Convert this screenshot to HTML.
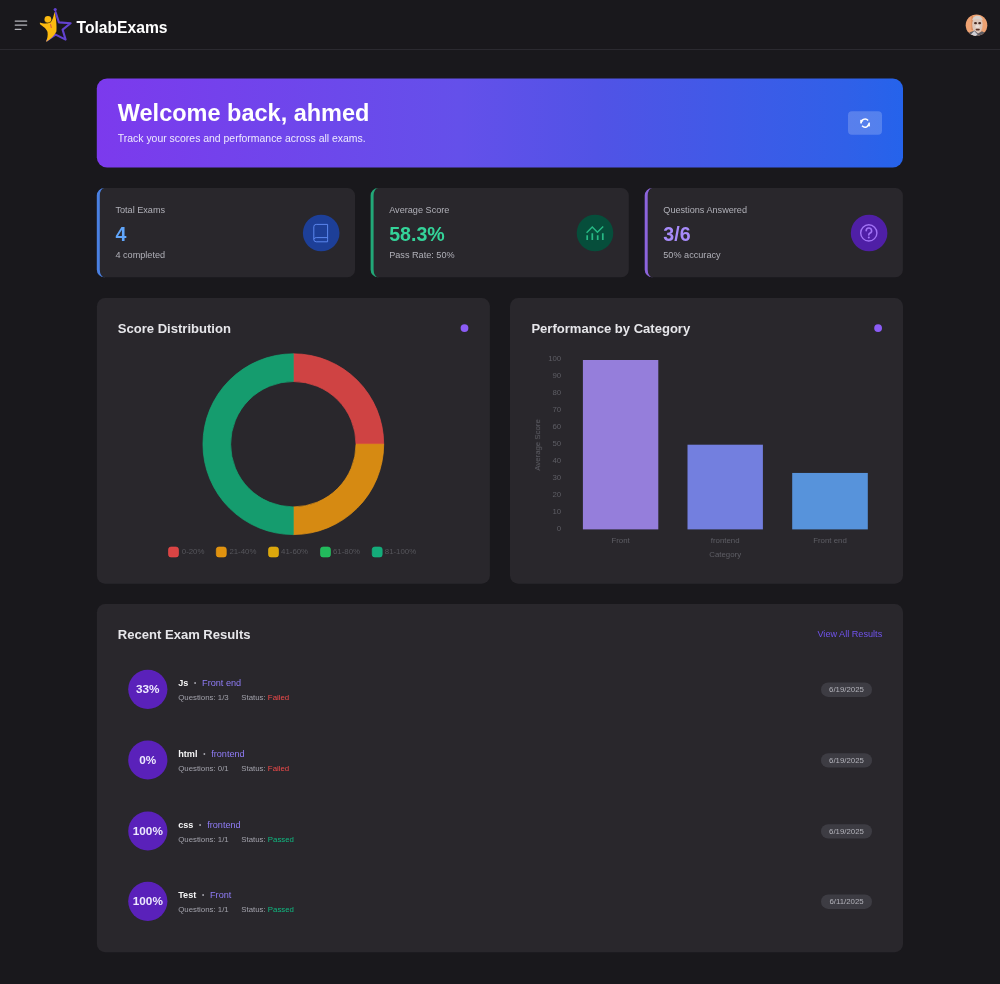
<!DOCTYPE html>
<html><head><meta charset="utf-8"><title>TolabExams</title>
<style>
html,body{margin:0;padding:0;background:#19181c;}
body{width:1000px;height:984px;position:relative;overflow:hidden;font-family:"Liberation Sans",sans-serif;}
#root{position:absolute;left:0;top:0;width:1000px;height:984px;will-change:transform;}
#art{position:absolute;left:0;top:0;display:block;}
.t{position:absolute;line-height:1;white-space:nowrap;}
</style></head><body><div id="root">
<svg id="art" width="1000" height="984" viewBox="0 0 1000 984">
<defs>
<linearGradient id="bg" x1="0" y1="0" x2="1" y2="0"><stop offset="0" stop-color="#7c3aed"/><stop offset="0.45" stop-color="#6450ea"/><stop offset="0.62" stop-color="#5153e6"/><stop offset="0.93" stop-color="#3060e8"/><stop offset="1" stop-color="#2563eb"/></linearGradient>
<clipPath id="av"><circle cx="976.5" cy="25.2" r="10.8"/></clipPath>
<filter id="bl" x="-20%" y="-20%" width="140%" height="140%"><feGaussianBlur stdDeviation="0.55"/></filter>
</defs>
<rect x="0" y="49" width="1000" height="1" rx="0" fill="#2b2a30" />
<path d="M15.2 21H26.7M15.2 25H26.7M15.2 29.3H21" stroke="#b4b4ba" stroke-width="1.25" stroke-linecap="round" fill="none"/>
<path d="M55.6 12.2 L58.9 22.4 L70.6 23.2 L62.6 29.6 L65.6 39.6 L55.6 34.6 L47 40.5" fill="none" stroke="#6242cf" stroke-width="2.1" stroke-linejoin="round" stroke-linecap="round"/>
<circle cx="55.2" cy="9.6" r="1.6" fill="#6242cf"/>
<path d="M39.9 22.5 C42.5 23.5 46.5 23.9 50.0 22.8 C52.4 21.2 53.6 16.5 54.5 12 C56 17 57 26 56.4 31.6 C54.5 35.8 50.5 39.6 46.0 41.9 C47.4 38.8 48.0 35.4 47.5 32.0 C46.6 28.6 42.6 26.4 39.9 24.0 Z" fill="#fbba10"/>
<circle cx="47.9" cy="19.5" r="3.4" fill="#fbba10"/><path d="M44.6 21.4 C46.2 23.2 49.4 23.2 51.2 21.2" stroke="#3a2a08" stroke-width="0.7" fill="none" opacity="0.7"/>
<path d="M50.6 24.6 L51.3 27.6" stroke="#d9534a" stroke-width="1" stroke-linecap="round"/>
<g clip-path="url(#av)"><rect x="964" y="13" width="25" height="25" fill="#eea272"/>
<g filter="url(#bl)">
<rect x="971.4" y="16" width="1.6" height="14" fill="#d98a5c"/>
<ellipse cx="977.4" cy="24.8" rx="5.2" ry="8.6" fill="#dcc6ba"/>
<path d="M972.2 20.6 C972.4 14.2 982.6 14.2 982.8 20.6 C980.5 18.6 974.5 18.6 972.2 20.6Z" fill="#d6d0cb"/>
<ellipse cx="975.5" cy="23.2" rx="1.5" ry="1.1" fill="#4a2c24"/>
<ellipse cx="979.7" cy="23.2" rx="1.5" ry="1.1" fill="#4a2c24"/>
<ellipse cx="977.6" cy="26.4" rx="2.2" ry="1.6" fill="#eadcd4"/>
<path d="M966 38 L969.5 32.5 L974.5 30.6 L978 33.6 L982 31.2 L987 34 L989 38Z" fill="#5d5c63"/>
<path d="M968.5 37 L974.2 31 L977.6 34.6 L973 38Z" fill="#d0d0d6"/>
<rect x="975.6" y="28.8" width="4.2" height="1.6" rx="0.8" fill="#5a3228"/>
</g></g>
<rect x="96.8" y="78.4" width="806.2" height="89.0" rx="10.2" fill="url(#bg)" />
<rect x="848" y="111.3" width="34" height="23.4" rx="4" fill="rgba(255,255,255,0.2)" />
<g transform="translate(858.86 116.86)"><g transform="scale(1.04)"><g fill="none" stroke="#fff" stroke-width="1.45"><path d="M2.1 6.4 A3.9 3.9 0 0 1 8.9 3.4"/><path d="M9.9 5.6 A3.9 3.9 0 0 1 3.1 8.6"/></g>
<path d="M1.2 2.8 L4.5 3.7 L1.8 6.0Z" fill="#fff"/><path d="M10.8 9.2 L7.5 8.3 L10.2 6.0Z" fill="#fff"/></g></g>
<path d="M104.3 188.1 H104.5 V277.3 H104.3 A7.5 7.5 0 0 1 96.8 269.8 V195.6 A7.5 7.5 0 0 1 104.3 188.1Z" fill="#4a80e2"/>
<path d="M104.3 188.1 H347.5 A7.5 7.5 0 0 1 355.0 195.6 V269.8 A7.5 7.5 0 0 1 347.5 277.3 H104.3 A4.5 7.5 0 0 1 99.8 269.8 V195.6 A4.5 7.5 0 0 1 104.3 188.1Z" fill="#29272c"/>
<circle cx="321.2" cy="233" r="18.3" fill="#1d3f98"/>
<g transform="translate(321.2 233)"><g fill="none" stroke="#5b86ee" stroke-width="1"><path d="M6.4 6.2 V-8.6 H-5 A2.4 2.4 0 0 0 -7.4 -6.2 V6.4 A2.4 2.4 0 0 0 -5 8.8 H6.4 V6.2 M-7.4 6.4 A2.4 2.4 0 0 1 -5 4.6 H6.4"/></g></g>
<path d="M378.1 188.1 H378.3 V277.3 H378.1 A7.5 7.5 0 0 1 370.6 269.8 V195.6 A7.5 7.5 0 0 1 378.1 188.1Z" fill="#22a878"/>
<path d="M378.1 188.1 H621.3 A7.5 7.5 0 0 1 628.8 195.6 V269.8 A7.5 7.5 0 0 1 621.3 277.3 H378.1 A4.5 7.5 0 0 1 373.6 269.8 V195.6 A4.5 7.5 0 0 1 378.1 188.1Z" fill="#29272c"/>
<circle cx="595.0" cy="233" r="18.3" fill="#064e3b"/>
<g transform="translate(595.0 233)"><g fill="none" stroke="#27b985"><path d="M-8.4 -0.2 L-2.7 -5.9 L2.4 -0.8 L8.2 -6.6" stroke-width="1.4"/><path d="M-7.8 2.2 V7 M-2.7 0.2 V7 M2.7 2.2 V7 M7.8 0.2 V7" stroke-width="1.7"/></g></g>
<path d="M652.2 188.1 H652.4000000000001 V277.3 H652.2 A7.5 7.5 0 0 1 644.7 269.8 V195.6 A7.5 7.5 0 0 1 652.2 188.1Z" fill="#8c64dc"/>
<path d="M652.2 188.1 H895.4000000000001 A7.5 7.5 0 0 1 902.9000000000001 195.6 V269.8 A7.5 7.5 0 0 1 895.4000000000001 277.3 H652.2 A4.5 7.5 0 0 1 647.7 269.8 V195.6 A4.5 7.5 0 0 1 652.2 188.1Z" fill="#29272c"/>
<circle cx="869.1" cy="233" r="18.3" fill="#4f1fa6"/>
<g transform="translate(869.1 233)"><g fill="none" stroke="#a273f6" stroke-width="1.4"><circle cx="-0.3" cy="-0.1" r="8.1"/><path d="M-2.9 -2.3 A2.7 2.7 0 1 1 0.6 0.3 C-0.1 0.7 -0.3 1.2 -0.3 2.0" stroke-linecap="round" stroke-width="1.6"/></g><circle cx="-0.3" cy="4.4" r="1.0" fill="#a273f6"/></g>
<rect x="96.9" y="298" width="393" height="285.7" rx="8.2" fill="#29272c" />
<rect x="510" y="298" width="393" height="285.7" rx="8.2" fill="#29272c" />
<circle cx="464.5" cy="328.1" r="3.9" fill="#8b5cf6"/>
<circle cx="878.1" cy="328.1" r="3.9" fill="#8b5cf6"/>
<path d="M293.30 353.80 A90.4 90.4 0 0 1 383.70 444.20 L356.00 444.20 A62.7 62.7 0 0 0 293.30 381.50Z" fill="#cf4343" stroke="#e04848" stroke-width="0.7"/><path d="M383.70 444.20 A90.4 90.4 0 0 1 293.30 534.60 L293.30 506.90 A62.7 62.7 0 0 0 356.00 444.20Z" fill="#d68a12" stroke="#e89614" stroke-width="0.7"/><path d="M293.30 534.60 A90.4 90.4 0 0 1 293.30 353.80 L293.30 381.50 A62.7 62.7 0 0 0 293.30 506.90Z" fill="#159c6e" stroke="#14a874" stroke-width="0.7"/>
<rect x="168.5" y="547.0" width="10" height="10" rx="2.6" fill="#da4444" stroke="#ee4a4a" stroke-width="0.6"/>
<rect x="216.3" y="547.0" width="10" height="10" rx="2.6" fill="#e0920f" stroke="#f29f12" stroke-width="0.6"/>
<rect x="268.5" y="547.0" width="10" height="10" rx="2.6" fill="#dca70c" stroke="#eab40e" stroke-width="0.6"/>
<rect x="320.5" y="547.0" width="10" height="10" rx="2.6" fill="#22ba5c" stroke="#26c964" stroke-width="0.6"/>
<rect x="372.2" y="547.0" width="10" height="10" rx="2.6" fill="#14ac7a" stroke="#16ba84" stroke-width="0.6"/>
<rect x="582.9" y="360.0" width="75.4" height="169.4" rx="0" fill="#957edb" />
<rect x="687.5" y="444.7" width="75.4" height="84.7" rx="0" fill="#737fdf" />
<rect x="792.2" y="472.94" width="75.6" height="56.46" rx="0" fill="#5793db" />
<rect x="96.9" y="604" width="806.1" height="348.2" rx="8.2" fill="#29272c" />
<circle cx="147.8" cy="689.3" r="19.6" fill="#5a21ba"/>
<rect x="821" y="682.5" width="51" height="14.4" rx="7.2" fill="#3d3c43" />
<circle cx="147.8" cy="760.0" r="19.6" fill="#5a21ba"/>
<rect x="821" y="753.2" width="51" height="14.4" rx="7.2" fill="#3d3c43" />
<circle cx="147.8" cy="831.0" r="19.6" fill="#5a21ba"/>
<rect x="821" y="824.2" width="51" height="14.4" rx="7.2" fill="#3d3c43" />
<circle cx="147.8" cy="901.3" r="19.6" fill="#5a21ba"/>
<rect x="821" y="894.5" width="51" height="14.4" rx="7.2" fill="#3d3c43" />
</svg>
<div class="t" style="left:76.50px;top:19.54px;font-size:15.67px;color:#ffffff;font-weight:bold;">TolabExams</div>
<div class="t" style="left:117.80px;top:102.21px;font-size:23.5px;color:#ffffff;font-weight:bold;">Welcome back, ahmed</div>
<div class="t" style="left:117.80px;top:134.05px;font-size:10.45px;color:#ede9fe;font-weight:normal;">Track your scores and performance across all exams.</div>
<div class="t" style="left:115.40px;top:206.16px;font-size:9.14px;color:#b0b0b8;font-weight:normal;">Total Exams</div>
<div class="t" style="left:115.40px;top:225.21px;font-size:19.6px;color:#60a5fa;font-weight:bold;">4</div>
<div class="t" style="left:115.40px;top:251.26px;font-size:9.14px;color:#b0b0b8;font-weight:normal;">4 completed</div>
<div class="t" style="left:389.20px;top:206.16px;font-size:9.14px;color:#b0b0b8;font-weight:normal;">Average Score</div>
<div class="t" style="left:389.20px;top:225.21px;font-size:19.6px;color:#34d399;font-weight:bold;">58.3%</div>
<div class="t" style="left:389.20px;top:251.26px;font-size:9.14px;color:#b0b0b8;font-weight:normal;">Pass Rate: 50%</div>
<div class="t" style="left:663.30px;top:206.16px;font-size:9.14px;color:#b0b0b8;font-weight:normal;">Questions Answered</div>
<div class="t" style="left:663.30px;top:225.21px;font-size:19.6px;color:#a78bfa;font-weight:bold;">3/6</div>
<div class="t" style="left:663.30px;top:251.26px;font-size:9.14px;color:#b0b0b8;font-weight:normal;">50% accuracy</div>
<div class="t" style="left:117.80px;top:321.94px;font-size:13.06px;color:#e6e6ea;font-weight:bold;">Score Distribution</div>
<div class="t" style="left:531.40px;top:321.94px;font-size:13.06px;color:#e6e6ea;font-weight:bold;">Performance by Category</div>
<div class="t" style="left:181.80px;top:547.96px;font-size:7.84px;color:#56565c;font-weight:normal;">0-20%</div>
<div class="t" style="left:229.40px;top:547.96px;font-size:7.84px;color:#56565c;font-weight:normal;">21-40%</div>
<div class="t" style="left:281.10px;top:547.96px;font-size:7.84px;color:#56565c;font-weight:normal;">41-60%</div>
<div class="t" style="left:333.00px;top:547.96px;font-size:7.84px;color:#56565c;font-weight:normal;">61-80%</div>
<div class="t" style="left:384.80px;top:547.96px;font-size:7.84px;color:#56565c;font-weight:normal;">81-100%</div>
<div class="t" style="right:438.80px;top:525.26px;font-size:7.84px;color:#5e5e65;font-weight:normal;">0</div>
<div class="t" style="right:438.80px;top:508.23px;font-size:7.84px;color:#5e5e65;font-weight:normal;">10</div>
<div class="t" style="right:438.80px;top:491.20px;font-size:7.84px;color:#5e5e65;font-weight:normal;">20</div>
<div class="t" style="right:438.80px;top:474.17px;font-size:7.84px;color:#5e5e65;font-weight:normal;">30</div>
<div class="t" style="right:438.80px;top:457.14px;font-size:7.84px;color:#5e5e65;font-weight:normal;">40</div>
<div class="t" style="right:438.80px;top:440.11px;font-size:7.84px;color:#5e5e65;font-weight:normal;">50</div>
<div class="t" style="right:438.80px;top:423.08px;font-size:7.84px;color:#5e5e65;font-weight:normal;">60</div>
<div class="t" style="right:438.80px;top:406.05px;font-size:7.84px;color:#5e5e65;font-weight:normal;">70</div>
<div class="t" style="right:438.80px;top:389.02px;font-size:7.84px;color:#5e5e65;font-weight:normal;">80</div>
<div class="t" style="right:438.80px;top:371.99px;font-size:7.84px;color:#5e5e65;font-weight:normal;">90</div>
<div class="t" style="right:438.80px;top:354.96px;font-size:7.84px;color:#5e5e65;font-weight:normal;">100</div>
<div class="t" style="left:420.60px;width:400px;text-align:center;top:537.26px;font-size:7.84px;color:#5e5e65;font-weight:normal;">Front</div>
<div class="t" style="left:525.20px;width:400px;text-align:center;top:537.26px;font-size:7.84px;color:#5e5e65;font-weight:normal;">frontend</div>
<div class="t" style="left:630.00px;width:400px;text-align:center;top:537.26px;font-size:7.84px;color:#5e5e65;font-weight:normal;">Front end</div>
<div class="t" style="left:525.20px;width:400px;text-align:center;top:551.06px;font-size:7.84px;color:#5e5e65;font-weight:normal;">Category</div>
<div class="t" style="left:437.9px;width:200px;text-align:center;top:441px;font-size:7.84px;color:#5e5e65;transform:rotate(-90deg);transform-origin:50% 50%;">Average Score</div>
<div class="t" style="left:117.80px;top:627.94px;font-size:13.06px;color:#e6e6ea;font-weight:bold;">Recent Exam Results</div>
<div class="t" style="right:117.80px;top:630.46px;font-size:9.14px;color:#7053ec;font-weight:normal;">View All Results</div>
<div class="t" style="left:-52.20px;width:400px;text-align:center;top:683.05px;font-size:11.75px;color:#ede9fe;font-weight:bold;">33%</div>
<div class="t" style="left:178.2px;top:678.86px;font-size:9.14px;color:#f4f4f5"><b>Js</b><span style="font-size:6.4px;color:#a4a4ac;vertical-align:0.9px;margin:0 5.8px 0 5.7px">•</span><span style="color:#8f7cf6">Front end</span></div>
<div class="t" style="left:178.20px;top:694.16px;font-size:7.84px;color:#a1a1aa;font-weight:normal;">Questions: 1/3</div>
<div class="t" style="left:241.3px;top:694.16px;font-size:7.84px;color:#a1a1aa">Status: <span style="color:#f04a4a">Failed</span></div>
<div class="t" style="left:646.50px;width:400px;text-align:center;top:685.86px;font-size:7.84px;color:#b2b2ba;font-weight:normal;">6/19/2025</div>
<div class="t" style="left:-52.20px;width:400px;text-align:center;top:753.75px;font-size:11.75px;color:#ede9fe;font-weight:bold;">0%</div>
<div class="t" style="left:178.2px;top:749.56px;font-size:9.14px;color:#f4f4f5"><b>html</b><span style="font-size:6.4px;color:#a4a4ac;vertical-align:0.9px;margin:0 5.8px 0 5.7px">•</span><span style="color:#8f7cf6">frontend</span></div>
<div class="t" style="left:178.20px;top:764.86px;font-size:7.84px;color:#a1a1aa;font-weight:normal;">Questions: 0/1</div>
<div class="t" style="left:241.3px;top:764.86px;font-size:7.84px;color:#a1a1aa">Status: <span style="color:#f04a4a">Failed</span></div>
<div class="t" style="left:646.50px;width:400px;text-align:center;top:756.56px;font-size:7.84px;color:#b2b2ba;font-weight:normal;">6/19/2025</div>
<div class="t" style="left:-52.20px;width:400px;text-align:center;top:824.75px;font-size:11.75px;color:#ede9fe;font-weight:bold;">100%</div>
<div class="t" style="left:178.2px;top:820.56px;font-size:9.14px;color:#f4f4f5"><b>css</b><span style="font-size:6.4px;color:#a4a4ac;vertical-align:0.9px;margin:0 5.8px 0 5.7px">•</span><span style="color:#8f7cf6">frontend</span></div>
<div class="t" style="left:178.20px;top:835.86px;font-size:7.84px;color:#a1a1aa;font-weight:normal;">Questions: 1/1</div>
<div class="t" style="left:241.3px;top:835.86px;font-size:7.84px;color:#a1a1aa">Status: <span style="color:#10b981">Passed</span></div>
<div class="t" style="left:646.50px;width:400px;text-align:center;top:827.56px;font-size:7.84px;color:#b2b2ba;font-weight:normal;">6/19/2025</div>
<div class="t" style="left:-52.20px;width:400px;text-align:center;top:895.05px;font-size:11.75px;color:#ede9fe;font-weight:bold;">100%</div>
<div class="t" style="left:178.2px;top:890.86px;font-size:9.14px;color:#f4f4f5"><b>Test</b><span style="font-size:6.4px;color:#a4a4ac;vertical-align:0.9px;margin:0 5.8px 0 5.7px">•</span><span style="color:#8f7cf6">Front</span></div>
<div class="t" style="left:178.20px;top:906.16px;font-size:7.84px;color:#a1a1aa;font-weight:normal;">Questions: 1/1</div>
<div class="t" style="left:241.3px;top:906.16px;font-size:7.84px;color:#a1a1aa">Status: <span style="color:#10b981">Passed</span></div>
<div class="t" style="left:646.50px;width:400px;text-align:center;top:897.86px;font-size:7.84px;color:#b2b2ba;font-weight:normal;">6/11/2025</div>
</div></body></html>
